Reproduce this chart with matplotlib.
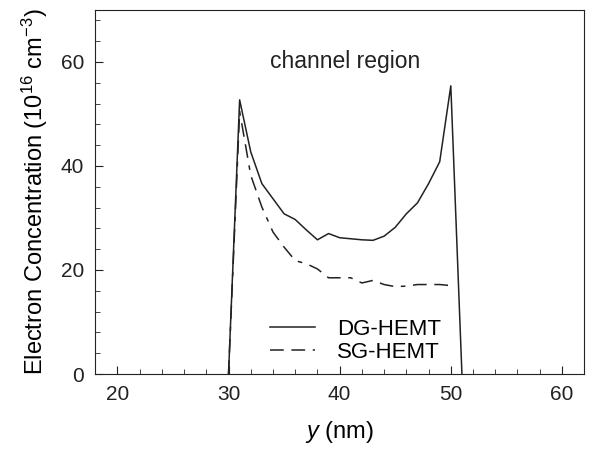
import matplotlib.pyplot as plt
from matplotlib.ticker import MultipleLocator, AutoMinorLocator

plt.rcParams['font.family'] = ['Liberation Sans', 'DejaVu Sans']
plt.rcParams['mathtext.fontset'] = 'custom'
plt.rcParams['mathtext.rm'] = 'Liberation Sans'
plt.rcParams['mathtext.it'] = 'Liberation Sans:italic'

# y 位置 (nm)
y_dg = [30, 31, 32, 33, 34, 35, 36, 37, 38, 39, 40, 41, 42, 43, 44, 45, 46, 47, 48, 49, 50, 51]
# DG-HEMT 电子浓度 (1e16 cm^-3)
n_dg = [0, 52.7, 42.7, 36.6, 33.7, 30.8, 29.7, 27.7, 25.8, 27.0, 26.2, 26.0, 25.8, 25.7,
        26.5, 28.2, 30.8, 32.9, 36.6, 40.8, 55.4, 0]
# SG-HEMT
y_sg = [30, 31, 32, 33, 34, 35, 36, 37, 38, 39, 40, 41, 42, 43, 44, 45, 46, 47, 48, 49, 50]
n_sg = [0, 50.5, 38.2, 32.1, 27.3, 24.4, 21.8, 21.2, 20.2, 18.5, 18.5, 18.5, 17.5, 18.0,
        17.2, 16.8, 16.9, 17.2, 17.2, 17.2, 17.0]

fig = plt.figure(figsize=(6.06, 4.49), dpi=100)
ax = fig.add_axes([0.157, 0.167, 0.807, 0.811])

ax.plot(y_dg, n_dg, color='#222222', lw=1.1, label='DG-HEMT')
ax.plot(y_sg, n_sg, color='#222222', lw=1.1, dashes=(9, 5, 9, 5, 3, 5), label='SG-HEMT')

ax.set_xlim(18, 62)
ax.set_ylim(0, 70)
ax.xaxis.set_major_locator(MultipleLocator(10))
ax.xaxis.set_minor_locator(AutoMinorLocator(5))
ax.yaxis.set_major_locator(MultipleLocator(20))
ax.yaxis.set_minor_locator(AutoMinorLocator(5))
ax.tick_params(which='both', direction='in', labelsize=15, colors='#222222')
ax.tick_params(which='major', length=6, pad=8)
ax.tick_params(which='minor', length=3.5)
for s in ax.spines.values():
    s.set_color('#222222')

ax.set_xlabel(r'$\mathit{y}$ (nm)', fontsize=17, labelpad=11)
ax.set_ylabel(r'Electron Concentration (10$^{16}$ cm$^{-3}$)', fontsize=17, labelpad=8)
ax.text(40.5, 60, 'channel region', fontsize=16.5, ha='center', va='center', color='#222222')

ax.legend(loc='lower left', bbox_to_anchor=(0.335, 0.0), borderaxespad=0.1, frameon=False,
          fontsize=16, handlelength=2.0, handletextpad=1.0, labelspacing=0.1)

fig.savefig('out.png', dpi=100)
